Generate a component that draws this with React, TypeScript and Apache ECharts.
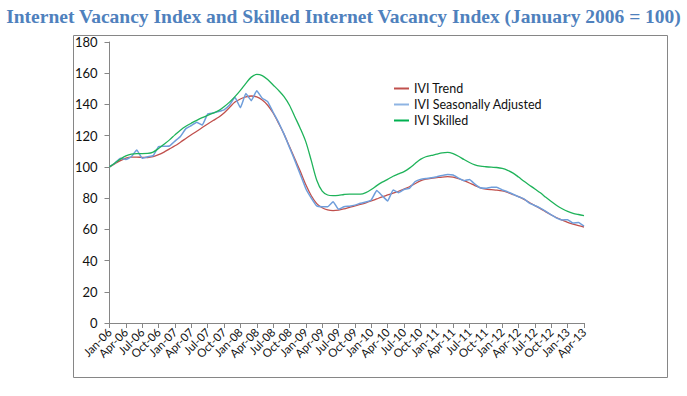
import React, { useEffect, useRef } from "react";
import * as echarts from "echarts";

const monthNames = ["Jan", "Feb", "Mar", "Apr", "May", "Jun", "Jul", "Aug", "Sep", "Oct", "Nov", "Dec"];
const yearLabels = ["06", "07", "08", "09", "10", "11", "12", "13"];
const monthCount = 88;

const iviTrend = [
  100, 102, 104, 105.6, 106.3, 106.3, 106.1, 106, 106.5, 107.8, 109.5, 111.5,
  113.5, 115.8, 118.2, 120.6, 122.8, 125.2, 127.5, 129.7, 131.8, 134.5, 138, 141.5,
  143.5, 144.8, 145.4, 144.8, 142.8, 139.5, 134.5, 128, 121, 113, 105, 97,
  88.5, 81.5, 76.5, 73.8, 72.4, 72, 72.3, 73.1, 74.1, 75.1, 76, 77,
  78.2, 79.5, 80.8, 82, 83.2, 84.4, 85.8, 87.3, 89.2, 91, 92.1, 92.7,
  93.1, 93.5, 93.7, 93.4, 92.4, 91.2, 89.7, 88, 86.6, 85.8, 85.4, 85.1,
  84.6, 83.6, 82.3, 80.9, 79.2, 77.2, 75.2, 73.3, 71.2, 69.2, 67.4, 65.9,
  64.5, 63.3, 62.3, 61.5,
];

const iviSeasonallyAdjusted = [
  100, 102.5, 105.5, 104.8, 106.5, 110.8, 105.5, 106.5, 107.2, 113, 113.2, 113.4,
  116.5, 119.5, 124.5, 126.5, 128.6, 126.8, 133.9, 134.5, 135.4, 136.5, 139.6, 144.6,
  137.9, 147, 142.4, 148.8, 144, 141.8, 135, 128.5, 121, 112.5, 104, 95,
  86, 80, 75, 74.5, 74.5, 77.7, 72.8, 74.5, 74.8, 75.5, 76.7, 77.5,
  78.8, 84.8, 81.5, 78.2, 85.2, 83.5, 85.5, 86.3, 90.5, 92, 92.6, 93,
  93.7, 94.5, 95.2, 94.8, 92.8, 91.2, 92, 89, 86.6, 86.3, 87, 87,
  85.3, 84, 82.5, 80.9, 79.5, 76.8, 75.2, 73.6, 71.5, 69.3, 67.2, 66,
  66.2, 64, 64.4, 62,
];

const iviSkilled = [
  100, 102.5, 105, 107, 108.2, 108.5, 108.5, 108.6, 109.5, 111.8, 114.5, 117.3,
  120.5, 123.5, 126, 128, 129.8, 131.5, 133, 134.5, 136, 138.5, 141.5, 145,
  149, 153.5, 157.5, 159.2, 158.5, 156, 152.5, 149, 145, 139.5, 132, 124.5,
  116, 104, 91.5, 84.5, 82, 81.6, 81.8, 82.3, 82.6, 82.5, 82.5, 83.5,
  85.5, 88, 90.2, 92, 94, 95.5, 97, 99.2, 102, 104.8, 106.5, 107.3,
  108.2, 109, 109.3, 108.5, 106.8, 104.7, 102.8, 101.3, 100.5, 100.1, 99.8, 99.6,
  99, 97.8, 96, 93.5, 90.8, 88.3, 85.8, 83.4, 80.5, 77.8, 75.3, 73.2,
  71.5, 70.3, 69.5, 68.8,
];

const seriesNames = ["IVI Trend", "IVI Seasonally Adjusted", "IVI Skilled"];
const titleText = "Internet Vacancy Index and Skilled Internet Vacancy Index (January 2006 = 100)";
const labelStep = 3;

const categories = yearLabels
  .flatMap((y) => monthNames.map((m) => `${m}-${y}`))
  .slice(0, monthCount);

export default function App() {
  const ref = useRef<HTMLDivElement>(null);
  useEffect(() => {
    if (!ref.current) return;
    const chart = echarts.init(ref.current, null, { renderer: "svg" });
    const axisGray = "#868686";
    const labelBase = {
      rotate: 45,
      margin: 7,
      hideOverlap: false,
      fontFamily: "Lato",
      fontSize: 11.5,
      color: "#111",
    };
    chart.setOption({
      animation: false,
      backgroundColor: "#ffffff",
      title: {
        text: titleText,
        left: "center",
        top: 1,
        textStyle: {
          fontFamily: "Liberation Serif",
          fontWeight: "bold",
          fontSize: 19.5,
          color: "#4F81BD",
        },
      },
      graphic: [
        {
          type: "rect",
          shape: { x: 73.5, y: 35.5, width: 594, height: 342 },
          style: { fill: "none", stroke: axisGray, lineWidth: 1 },
          silent: true,
        },
      ],
      legend: {
        orient: "vertical",
        left: 389,
        top: 77,
        itemWidth: 15,
        itemHeight: 2,
        itemGap: 3,
        icon: "rect",
        data: seriesNames,
        textStyle: { fontFamily: "Lato", fontSize: 12.5, color: "#111" },
      },
      grid: { left: 109.5, right: 103, top: 42, bottom: 73 },
      xAxis: [
        {
          type: "category",
          boundaryGap: false,
          data: categories,
          axisLine: { lineStyle: { color: axisGray } },
          axisTick: {
            interval: (i: number) => i % labelStep === 0,
            length: 5,
            lineStyle: { color: axisGray },
          },
          axisLabel: {
            ...labelBase,
            interval: (i: number) => i % (labelStep * 2) === 0,
          },
          splitLine: { show: false },
        },
        {
          type: "category",
          position: "bottom",
          boundaryGap: false,
          data: categories,
          axisLine: { show: false },
          axisTick: { show: false },
          axisLabel: {
            ...labelBase,
            interval: (i: number) => i % (labelStep * 2) === labelStep,
          },
          splitLine: { show: false },
        },
      ],
      yAxis: {
        type: "value",
        min: 0,
        max: 180,
        interval: 20,
        axisLine: { show: true, lineStyle: { color: axisGray } },
        axisTick: { show: true, length: 5, lineStyle: { color: axisGray } },
        axisLabel: { margin: 12, fontFamily: "Lato", fontSize: 13, color: "#111" },
        splitLine: { show: false },
      },
      series: [
        {
          name: seriesNames[0],
          type: "line",
          data: iviTrend,
          smooth: 0.3,
          showSymbol: false,
          color: "#C0504D",
          lineStyle: { width: 1.3, color: "#C0504D" },
        },
        {
          name: seriesNames[1],
          type: "line",
          data: iviSeasonallyAdjusted,
          smooth: 0.1,
          showSymbol: false,
          color: "#8EB4E3",
          lineStyle: { width: 1.5, color: "#6F9EDB" },
        },
        {
          name: seriesNames[2],
          type: "line",
          data: iviSkilled,
          smooth: 0.3,
          showSymbol: false,
          color: "#00B050",
          lineStyle: { width: 1.3, color: "#1FB35A" },
        },
      ],
    });
    return () => chart.dispose();
  }, []);
  return (
    <div
      ref={ref}
      style={{ position: "absolute", left: 0, top: 0, width: 687, height: 396 }}
    />
  );
}
